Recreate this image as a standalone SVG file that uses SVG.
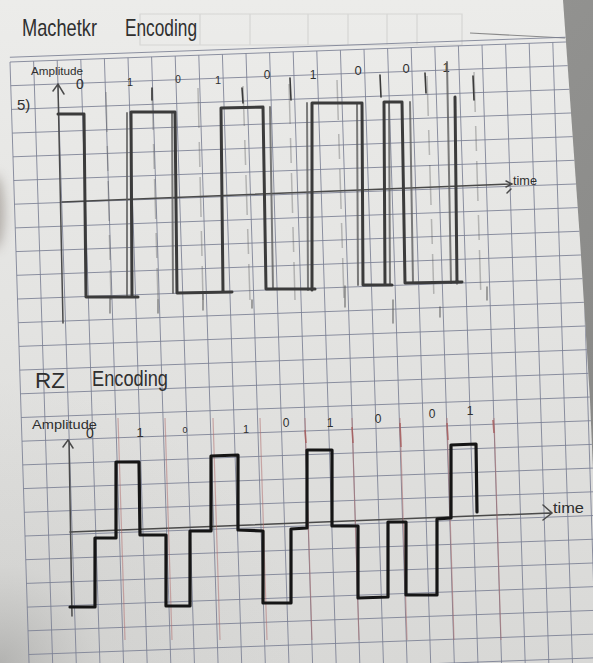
<svg xmlns="http://www.w3.org/2000/svg" width="593" height="663" viewBox="0 0 593 663">
  <defs>
    <style>
      .hw { font-family: "Liberation Sans", Arial, sans-serif; fill: #2f2f2f; }
      .gl { stroke: #7a7f93; stroke-width: 1; fill: none; vector-effect: non-scaling-stroke; opacity: 0.85; }
      .pen { fill: none; stroke: #3b3b3b; stroke-width: 3; stroke-linecap: round; stroke-linejoin: round; }
      .ghost { fill: none; stroke: #5e5e5e; stroke-width: 2; stroke-linecap: round; opacity: 0.8; }
      .rz { fill: none; stroke: #151515; stroke-width: 3.2; stroke-linecap: round; stroke-linejoin: round; }
      .tick { fill: none; stroke: #3a3a3a; stroke-width: 1.6; stroke-linecap: round; }
      .tick2 { fill: none; stroke: #555; stroke-width: 1.4; stroke-linecap: round; opacity: 0.7; }
      .faint { fill: none; stroke: #555; stroke-width: 1.5; opacity: 0.35; stroke-dasharray: 40 14 25 10; }
      .red { fill: none; stroke: #b06a6a; stroke-width: 1.2; opacity: 0.5; }
      .redtick { fill: none; stroke: #a85c5c; stroke-width: 1.6; opacity: 0.8; }
      .axis { fill: none; stroke: #4a4a4a; stroke-width: 1.5; stroke-linecap: round; }
    </style>
    <linearGradient id="paperG" x1="0" y1="0" x2="0" y2="1">
      <stop offset="0" stop-color="#ececea"/>
      <stop offset="0.5" stop-color="#e3e3e1"/>
      <stop offset="1" stop-color="#d8d8d6"/>
    </linearGradient>
    <radialGradient id="shadeBL" cx="0" cy="1" r="1">
      <stop offset="0" stop-color="#9a9a98" stop-opacity="0.6"/>
      <stop offset="0.35" stop-color="#b0b0ae" stop-opacity="0.15"/>
      <stop offset="1" stop-color="#b0b0ae" stop-opacity="0"/>
    </radialGradient>
    <linearGradient id="deskG" x1="0" y1="0" x2="1" y2="1">
      <stop offset="0" stop-color="#9d9d9b"/>
      <stop offset="1" stop-color="#858583"/>
    </linearGradient>
    <clipPath id="paperClip">
      <polygon points="0,0 563,0 580,240 590,400 593,470 593,663 0,663"/>
    </clipPath>
    <filter id="blur8" x="-50%" y="-50%" width="200%" height="200%">
      <feGaussianBlur stdDeviation="6"/>
    </filter>
  </defs>

  <!-- desk and paper -->
  <g id="background">
    <rect x="0" y="0" width="593" height="663" fill="url(#deskG)"/>
    <polygon points="0,0 563,0 580,240 590,400 593,470 593,663 0,663" fill="url(#paperG)"/>
    <rect x="0" y="380" width="300" height="283" fill="url(#shadeBL)"/>
    <ellipse cx="-6" cy="212" rx="10" ry="38" fill="#7a7067" opacity="0.5" filter="url(#blur8)"/>
  </g>

  <!-- faint printed header -->
  <g id="header" fill="none">
    <path d="M140,14 H462 V45 H140 Z M200,14 V45 M250,14 V45 M308,14 V45 M348,14 V45 M387,14 V45 M417,14 V45" stroke="#d6d6d4" stroke-width="1.2"/>
    <path d="M470,33 L565,38" stroke="#8a8a8a" stroke-width="1.2"/>
  </g>

  <!-- grid -->
  <g id="grid" clip-path="url(#paperClip)">
    <g transform="matrix(23.6,-0.85,0.75,23.7,10,62)">
      <path class="gl" d="M0,0V27 M1,0V27 M2,0V27 M3,0V27 M4,0V27 M5,0V27 M6,0V27 M7,0V27 M8,0V27 M9,0V27 M10,0V27 M11,0V27 M12,0V27 M13,0V27 M14,0V27 M15,0V27 M16,0V27 M17,0V27 M18,0V27 M19,0V27 M20,0V27 M21,0V27 M22,0V27 M23,0V27 M24,0V27"/>
      <path class="gl" d="M0,0H25 M0,-0.2H25 M0,1H25 M0,2H25 M0,3H25 M0,4H25 M0,5H25 M0,6H25 M0,7H25 M0,8H25 M0,9H25 M0,10H25 M0,11H25 M0,12H25 M0,13H25 M0,14H25 M0,15H25 M0,16H25 M0,17H25 M0,18H25 M0,19H25 M0,20H25 M0,21H25 M0,22H25 M0,23H25 M0,24H25 M0,25H25 M0,26H25"/>
    </g>
  </g>

  <!-- Manchester section -->
  <g id="manchester-title">
    <text class="hw" x="22" y="36" font-size="24" textLength="75" lengthAdjust="spacingAndGlyphs">Machetkr</text>
    <text class="hw" x="125" y="36" font-size="24" textLength="72" lengthAdjust="spacingAndGlyphs">Encoding</text>
  </g>
  <g id="manchester-axes">
    <text class="hw" x="31" y="75" font-size="11" textLength="52" lengthAdjust="spacingAndGlyphs">Amplitude</text>
    <text class="hw" x="17" y="110" font-size="15">5)</text>
    <path class="axis" d="M58,86 L63,323 M53,91 L58,84 L64,94"/>
    <path class="axis" d="M62,202 L510,184 M506,181 L512,184 L506,187 M507,193 L511,189"/>
    <text class="hw" x="513" y="185" font-size="12" textLength="24" lengthAdjust="spacingAndGlyphs">time</text>
  </g>
  <g id="manchester-bits" class="hw" text-anchor="middle">
    <text x="80" y="89" font-size="14">0</text>
    <text x="130" y="86" font-size="11">1</text>
    <text x="178" y="83" font-size="10">0</text>
    <text x="218" y="84" font-size="11">1</text>
    <text x="267" y="79" font-size="12">0</text>
    <text x="313" y="79" font-size="12">1</text>
    <text x="358" y="75" font-size="13">0</text>
    <text x="406" y="73" font-size="13">0</text>
    <text x="446" y="72" font-size="13">1</text>
  </g>
  <g id="manchester-marks">
    <path class="faint" d="M106,92 L111,300 M152,90 L158,300 M198,88 L203,300 M243,86 L250,300 M289,84 L295,300 M337,80 L344,300 M427,76 L434,300 M474,72 L481,300"/>
    <path class="tick" d="M152,88 L152,100 M242,88 L243,103 M290,78 L291,100 M380,75 L381,97 M425,73 L426,93 M473,76 L474,100"/>
    <path class="tick2" d="M110,298 L110,313 M158,300 L158,313 M203,294 L203,310 M252,300 L252,308 M345,286 L345,307 M393,300 L393,323 M440,307 L440,317 M487,287 L487,300"/>
  </g>
  <g id="manchester-wave">
    <path class="ghost" d="M127,113 L127,297 M172,112 L173,293 M270,107 L273,289 M307,103 L308,290 M357,103 L358,285 M389,102 L390,285 M410,102 L413,283 M447,62 L451,283"/>
    <path class="pen" d="M58,114 L84,114 L86,297 L138,297 M132,297 L131,112 L175,112 L177,293 L232,292 M223,292 L221,108 L263,107 L266,289 L315,289 M312,290 L312,103 L362,103 L363,285 L392,285 M385,285 L384,102 L402,102 L405,283 L462,282 M457,283 L455,97"/>
  </g>

  <!-- RZ section -->
  <g id="rz-title">
    <text class="hw" x="35" y="388" font-size="22" textLength="30" lengthAdjust="spacingAndGlyphs">RZ</text>
    <text class="hw" x="92" y="386" font-size="22" textLength="76" lengthAdjust="spacingAndGlyphs">Encoding</text>
  </g>
  <g id="rz-axes">
    <text class="hw" x="32" y="429" font-size="12" textLength="65" lengthAdjust="spacingAndGlyphs">Amplitude</text>
    <path class="axis" d="M69,441 L72,616 M63,447 L68,440 L73,448"/>
    <path class="axis" d="M70,532 L550,513 M543,505 L552,513 L543,520"/>
    <text class="hw" x="553" y="513" font-size="14" textLength="31" lengthAdjust="spacingAndGlyphs">time</text>
  </g>
  <g id="rz-bits" class="hw" text-anchor="middle">
    <text x="90" y="438" font-size="14">0</text>
    <text x="140" y="437" font-size="13">1</text>
    <text x="185" y="433" font-size="9">0</text>
    <text x="246" y="433" font-size="11">1</text>
    <text x="286" y="427" font-size="12">0</text>
    <text x="330" y="427" font-size="12">1</text>
    <text x="378" y="423" font-size="12">0</text>
    <text x="432" y="418" font-size="12">0</text>
    <text x="470" y="415" font-size="12">1</text>
  </g>
  <g id="rz-marks">
    <path class="red" d="M118,418 L125,640 M165,418 L172,640 M213,418 L220,640 M260,418 L267,640 M305,418 L312,640 M352,418 L359,640 M400,418 L407,640 M447,418 L454,640 M494,418 L501,640"/>
    <path class="redtick" d="M305,430 L306,443 M352,427 L353,443 M400,423 L401,447 M447,423 L448,440 M493,420 L494,433"/>
  </g>
  <g id="rz-wave">
    <path class="rz" d="M70,607 L95,607 L95,538 L116,538 L116,462 L139,462 L140,535 L166,535 L166,606 L190,606 L190,531 L211,531 L211,456 L238,455 L238,530 L263,531 L263,603 L291,603 L291,529 L307,528 L307,450 L332,450 L332,526 L358,526 L358,598 L388,597 L388,522 L406,522 L406,595 L437,595 L437,519 L451,518 L451,445 L476,444 L477,512"/>
  </g>
</svg>
